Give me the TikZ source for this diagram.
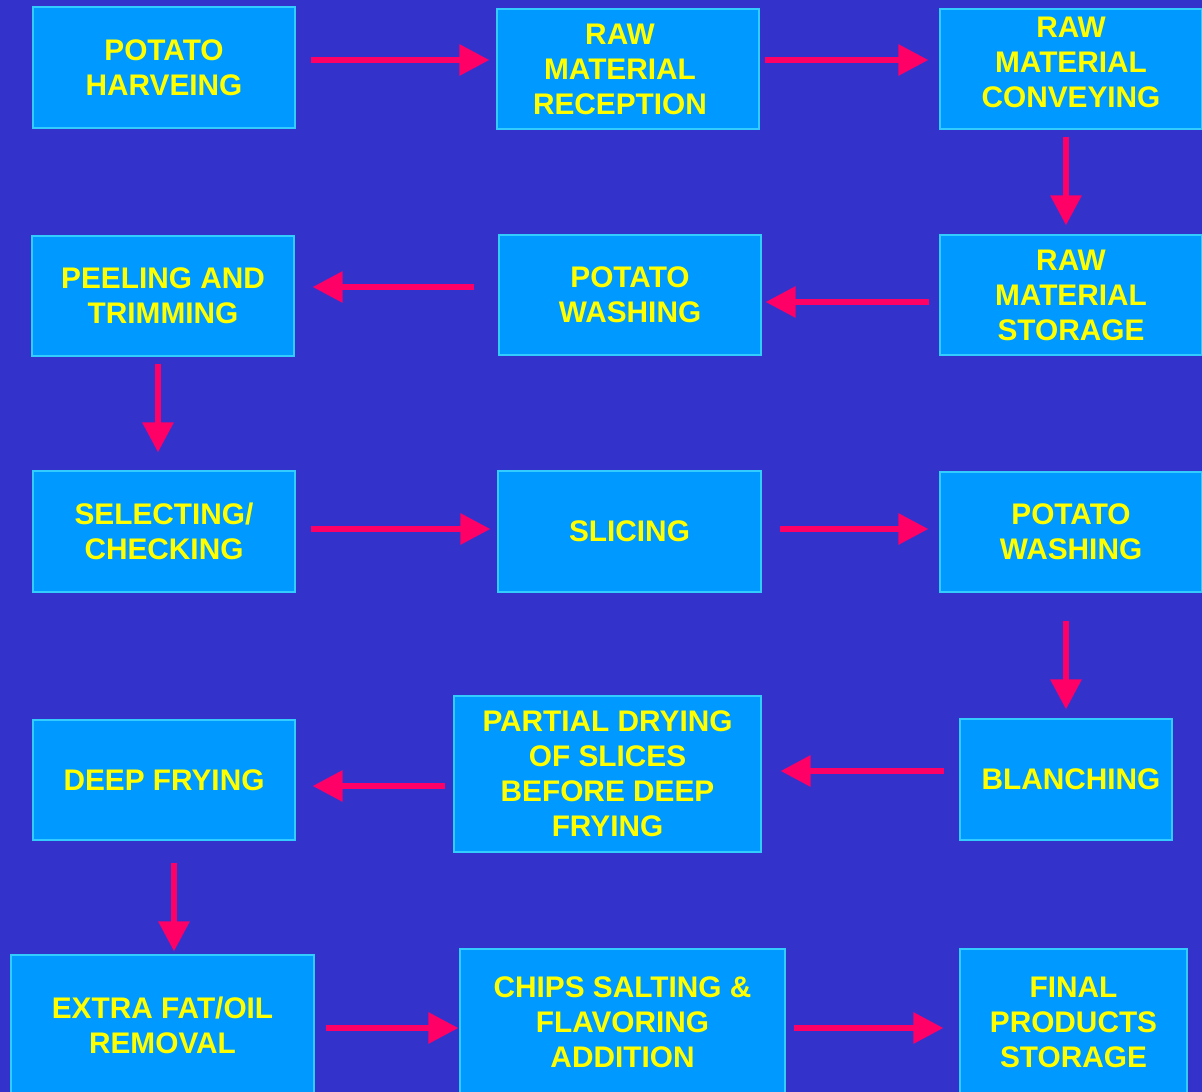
\documentclass[tikz,border=0pt]{standalone}
\usepackage{fontspec}
\setmainfont{Liberation Sans}
\usetikzlibrary{arrows.meta}
\definecolor{bgblue}{HTML}{3333CC}
\definecolor{boxblue}{HTML}{0099FF}
\definecolor{boxedge}{HTML}{33CCFF}
\definecolor{txtyellow}{HTML}{FFFF00}
\definecolor{arrpink}{HTML}{FF0066}
\tikzset{
  boxtext/.style={text=txtyellow, align=center, inner sep=0pt,
    font=\fontsize{29.8}{35}\selectfont\bfseries},
  stepbox/.style={draw=boxedge, line width=1.2pt, fill=boxblue, boxtext},
  arr/.style={draw=arrpink, line width=6pt, -{Triangle[length=30pt,width=30pt]}}
}
\begin{document}
\begin{tikzpicture}[x=1pt,y=-1pt]
\useasboundingbox (0,0) rectangle (1202,1092);
\fill[bgblue] (0,0) rectangle (1202,1092);
\begin{scope}
\clip (0,0) rectangle (1202,1092);
\node[stepbox, minimum width=262, minimum height=121] (harv) at (164,67.5) {POTATO\\HARVEING};
\node[stepbox, minimum width=262, minimum height=120,
  label={[boxtext, xshift=-8]center:{RAW\\MATERIAL\\RECEPTION}}] (recep) at (628,69) {};
\node[stepbox, minimum width=262, minimum height=120,
  label={[boxtext, yshift=7]center:{RAW\\MATERIAL\\CONVEYING}}] (conv) at (1071,69) {};
\node[stepbox, minimum width=262, minimum height=120] (stor) at (1071,295) {RAW\\MATERIAL\\STORAGE};
\node[stepbox, minimum width=262, minimum height=120] (washa) at (630,295) {POTATO\\WASHING};
\node[stepbox, minimum width=262, minimum height=120] (peel) at (163,296) {PEELING AND\\TRIMMING};
\node[stepbox, minimum width=262, minimum height=121] (sel) at (164,531.5) {SELECTING/\\CHECKING};
\node[stepbox, minimum width=263, minimum height=121] (slic) at (629.5,531.5) {SLICING};
\node[stepbox, minimum width=262, minimum height=120] (washb) at (1071,532) {POTATO\\WASHING};
\node[stepbox, minimum width=212, minimum height=121] (blanch) at (1066,779.5) {\hspace*{10pt}BLANCHING};
\node[stepbox, minimum width=307, minimum height=156] (partial) at (607.5,774) {PARTIAL DRYING\\OF SLICES\\BEFORE DEEP\\FRYING};
\node[stepbox, minimum width=262, minimum height=120] (deep) at (164,780) {DEEP FRYING};
\node[stepbox, minimum width=303, minimum height=140] (extra) at (162.5,1025) {EXTRA FAT/OIL\\REMOVAL};
\node[stepbox, minimum width=325, minimum height=146] (chips) at (622.5,1022) {CHIPS SALTING \&\\FLAVORING\\ADDITION};
\node[stepbox, minimum width=227, minimum height=146] (final) at (1073.5,1022) {FINAL\\PRODUCTS\\STORAGE};
\end{scope}
\draw[arr] ([xshift=15,yshift=7.5]harv.east) -- ([xshift=-7,yshift=9]recep.west);
\draw[arr] ([xshift=5,yshift=9]recep.east) -- ([xshift=-11,yshift=9]conv.west);
\draw[arr] ([xshift=-5,yshift=-7]conv.south) -- ([xshift=-5,yshift=9]stor.north);
\draw[arr] ([xshift=-10,yshift=-7]stor.west) -- ([xshift=4,yshift=-7]washa.east);
\draw[arr] ([xshift=-24,yshift=8]washa.west) -- ([xshift=18,yshift=9]peel.east);
\draw[arr] ([xshift=-5,yshift=-7]peel.south) -- ([xshift=-6,yshift=18]sel.north);
\draw[arr] ([xshift=15,yshift=2.5]sel.east) -- ([xshift=-7,yshift=2.5]slic.west);
\draw[arr] ([xshift=18,yshift=2.5]slic.east) -- ([xshift=-11,yshift=3]washb.west);
\draw[arr] ([xshift=-5,yshift=-28]washb.south) -- ([yshift=9]blanch.north);
\draw[arr] ([xshift=-15,yshift=8.5]blanch.west) -- ([xshift=19,yshift=3]partial.east);
\draw[arr] ([xshift=-8,yshift=-12]partial.west) -- ([xshift=17,yshift=-6]deep.east);
\draw[arr] ([xshift=10,yshift=-22]deep.south) -- ([xshift=11.5,yshift=3]extra.north);
\draw[arr] ([xshift=11,yshift=-3]extra.east) -- ([xshift=-1,yshift=-6]chips.west);
\draw[arr] ([xshift=8,yshift=-6]chips.east) -- ([xshift=-16,yshift=-6]final.west);
\end{tikzpicture}
\end{document}
